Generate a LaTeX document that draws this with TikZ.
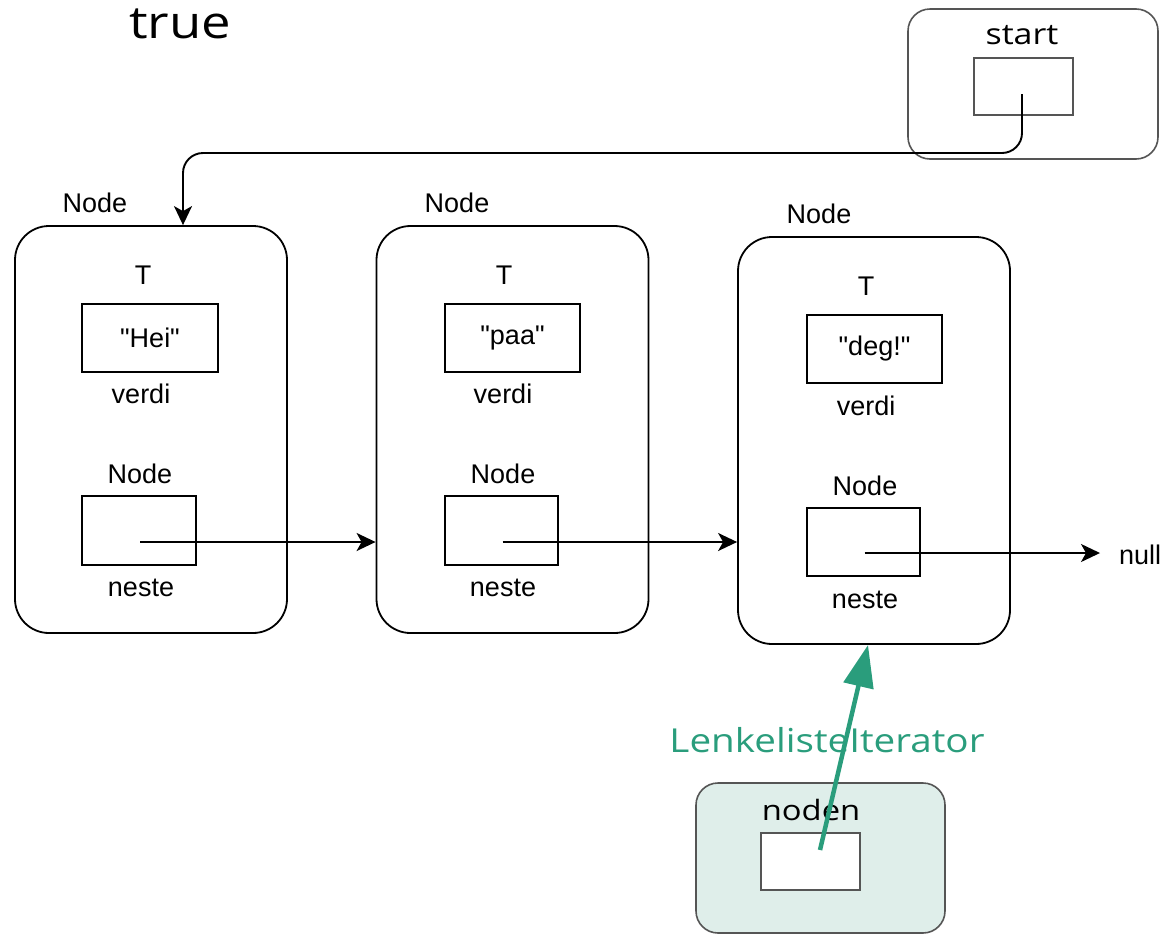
\documentclass[tikz,border=0pt]{standalone}
\usepackage{fontspec}
\setmainfont{Liberation Sans}
\newfontfamily\wsfont[FakeStretch=1.17]{Open Sans}
\usetikzlibrary{arrows.meta,calc}
\definecolor{itgreen}{HTML}{2A9D7C}
\definecolor{itfill}{HTML}{DFEEEA}
\definecolor{boxgray}{HTML}{555555}
\tikzset{
  outerbox/.style={draw=black, line width=1.8pt, rounded corners=34pt, minimum width=272pt, minimum height=407pt, inner sep=0pt},
  fieldbox/.style={draw=black, line width=1.8pt, inner sep=0pt},
  lbl/.style={font=\fontsize{27}{30}\selectfont, inner sep=0pt, anchor=base},
  ptr/.style={line width=1.9pt, -{Stealth[length=19pt,width=18pt,inset=5pt]}},
}
\begin{document}
\begin{tikzpicture}[x=1pt,y=-1pt]
\useasboundingbox (0,0) rectangle (1174,935);

\node[font=\wsfont\fontsize{45}{50}\selectfont, anchor=base, inner sep=0pt] (tru) at (180,38) {true};

% start box
\node[draw=boxgray, line width=1.6pt, rounded corners=22pt, minimum width=250pt, minimum height=150pt, inner sep=0pt] (sb) at (1033,84) {};
\node[font=\wsfont\fontsize{29}{32}\selectfont, anchor=base, inner sep=0pt] (sl) at (1022,44) {start};
\node[draw=boxgray, line width=1.6pt, minimum width=99pt, minimum height=57pt, inner sep=0pt] (sx) at (1023.5,86.5) {};

% node 1
\node[outerbox] (n1) at (151,429.5) {};
\node[lbl] (n1l) at (95,212) {Node};
\node[lbl] (n1t) at (143,284) {T};
\node[fieldbox, minimum width=136pt, minimum height=68pt] (v1) at (150,338) {};
\node[lbl, anchor=center] at (v1) {\textquotedbl Hei\textquotedbl};
\node[lbl] (v1l) at (141,403) {verdi};
\node[lbl] (x1t) at (140,483) {Node};
\node[fieldbox, minimum width=114pt, minimum height=69pt] (x1) at (139,530.5) {};
\node[lbl] (x1l) at (141,596) {neste};

% node 2
\node[outerbox] (n2) at (512.5,429.5) {};
\node[lbl] (n2l) at (457,212) {Node};
\node[lbl] (n2t) at (504,284) {T};
\node[fieldbox, minimum width=135pt, minimum height=68pt] (v2) at (512.5,338) {};
\node[lbl, anchor=center] at (v2) {\textquotedbl paa\textquotedbl};
\node[lbl] (v2l) at (503,403) {verdi};
\node[lbl] (x2t) at (503,483) {Node};
\node[fieldbox, minimum width=113pt, minimum height=69pt] (x2) at (501.5,530.5) {};
\node[lbl] (x2l) at (503,596) {neste};

% node 3
\node[outerbox] (n3) at (874,440.5) {};
\node[lbl] (n3l) at (819,223) {Node};
\node[lbl] (n3t) at (866,295) {T};
\node[fieldbox, minimum width=135pt, minimum height=68pt] (v3) at (874.5,349) {};
\node[lbl, anchor=center] at (v3) {\textquotedbl deg!\textquotedbl};
\node[lbl] (v3l) at (866,415) {verdi};
\node[lbl] (x3t) at (865,495) {Node};
\node[fieldbox, minimum width=113pt, minimum height=68pt] (x3) at (863.5,542) {};
\node[lbl] (x3l) at (865,608) {neste};

\node[lbl, anchor=west] (nul) at (1119,555) {null};

% pointers
\coordinate (x1c) at ([yshift=-11.5pt,xshift=1pt]x1.center);
\coordinate (x2c) at ([yshift=-11.5pt,xshift=1pt]x2.center);
\coordinate (x3c) at ([yshift=-11pt,xshift=1pt]x3.center);
\coordinate (nulend) at (1100,553);
\draw[ptr] (x1c) -- (x1c -| n2.west);
\draw[ptr] (x2c) -- (x2c -| n3.west);
\draw[ptr] (x3c) -- (nulend);

% start pointer
\coordinate (st) at (1022,94);
\coordinate (n1in) at ([xshift=32pt]n1.north);
\draw[ptr, rounded corners=20pt] (st) -- (1022,153) -- (183,153) -- (n1in);

% iterator
\node[draw=boxgray, fill=itfill, line width=1.6pt, rounded corners=22pt, minimum width=249pt, minimum height=150pt, inner sep=0pt] (it) at (820.5,858) {};
\node[font=\wsfont\fontsize{28}{32}\selectfont, anchor=base, inner sep=0pt] (itl) at (811,820) {noden};
\node[draw=boxgray, fill=white, line width=1.6pt, minimum width=99pt, minimum height=57pt, inner sep=0pt] (ix) at (810.5,861.5) {};
\coordinate (itstart) at (820,850);
\coordinate (ittarget) at (868,645);
\draw[itgreen, line width=4.5pt, -{Triangle[length=42pt,width=30pt]}] (itstart) -- (ittarget);
\node[font=\wsfont\fontsize{33}{36}\selectfont, text=itgreen, anchor=base, inner sep=0pt] (itn) at (827,752) {LenkelisteIterator};
\end{tikzpicture}
\end{document}
